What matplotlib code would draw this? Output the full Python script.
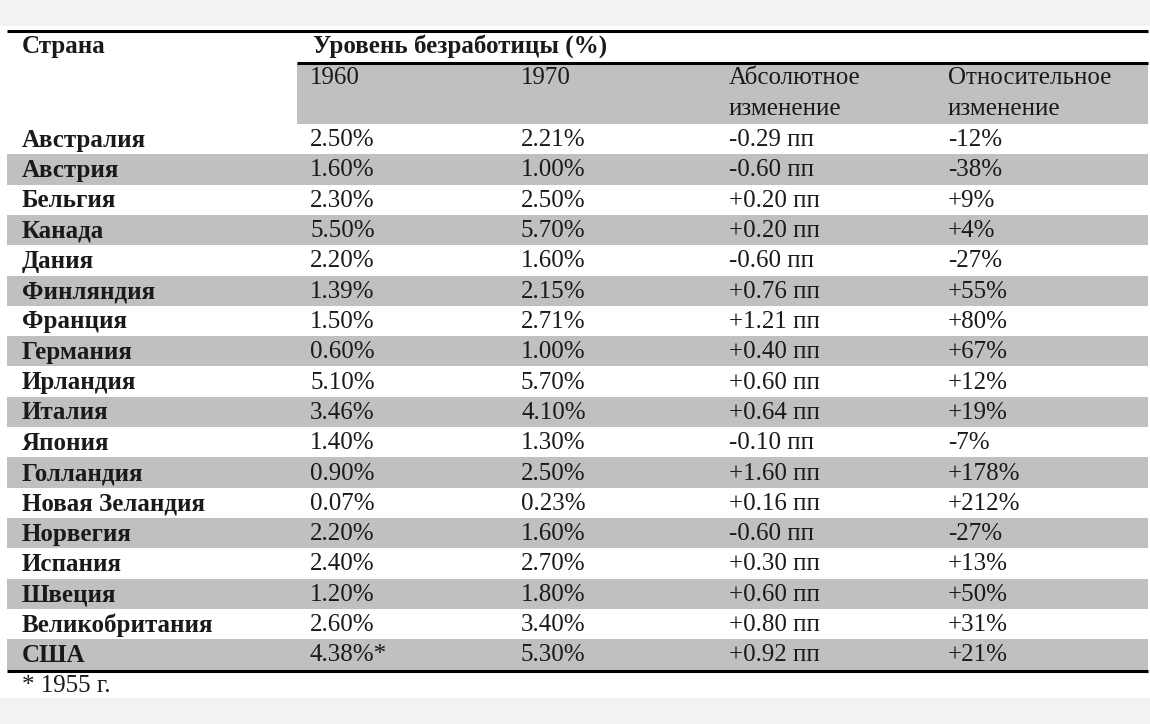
import matplotlib
matplotlib.use("Agg")
import matplotlib.pyplot as plt
from matplotlib.patches import Rectangle

countries = ["Австралия", "Австрия", "Бельгия", "Канада", "Дания", "Финляндия",
             "Франция", "Германия", "Ирландия", "Италия", "Япония", "Голландия",
             "Новая Зеландия", "Норвегия", "Испания", "Швеция", "Великобритания", "США"]
rate_1960 = [2.50, 1.60, 2.30, 5.50, 2.20, 1.39, 1.50, 0.60, 5.10, 3.46, 1.40, 0.90,
             0.07, 2.20, 2.40, 1.20, 2.60, 4.38]
rate_1970 = [2.21, 1.00, 2.50, 5.70, 1.60, 2.15, 2.71, 1.00, 5.70, 4.10, 1.30, 2.50,
             0.23, 1.60, 2.70, 1.80, 3.40, 5.30]
abs_change = [-0.29, -0.60, 0.20, 0.20, -0.60, 0.76, 1.21, 0.40, 0.60, 0.64, -0.10, 1.60,
              0.16, -0.60, 0.30, 0.60, 0.80, 0.92]
rel_change = [-12, -38, 9, 4, -27, 55, 80, 67, 12, 19, -7, 178, 212, -27, 13, 50, 31, 21]
note_1960 = ["", "", "", "", "", "", "", "", "", "", "", "", "", "", "", "", "", "*"]

col_header_1 = ["1960", "1970", "Абсолютное", "Относительное"]
col_header_2 = ["", "", "изменение", "изменение"]
title_country = "Страна"
title_group = "Уровень безработицы (%)"
footnote = "* 1955 г."

W, H = 1150, 724
fig = plt.figure(figsize=(W / 100, H / 100), dpi=100)
fig.patch.set_facecolor("#f2f2f2")
ax = fig.add_axes([0, 0, 1, 1])
ax.set_xlim(0, W)
ax.set_ylim(H, 0)
ax.axis("off")

FONT = "Liberation Serif"
FS = 18
TXT = "#1a1a1a"
STRIPE = "#c0c0c0"

left, right = 7, 1148
band_left = 297
col_x = [22, 310, 521, 729, 948]

# white table area
ax.add_patch(Rectangle((0, 26), W, 672, facecolor="white", edgecolor="none", zorder=0))

# header band
ax.add_patch(Rectangle((band_left, 63), right - band_left, 61, facecolor=STRIPE,
                       edgecolor="none", zorder=1))

row_top = 124
row_h = (669.5 - row_top) / len(countries)
for i in range(len(countries)):
    y0 = row_top + i * row_h
    if i % 2 == 1:
        ax.add_patch(Rectangle((left, y0), right - left, row_h, facecolor=STRIPE,
                               edgecolor="none", zorder=1))
    yc = y0 + row_h / 2 + 1
    ax.text(col_x[0], yc, countries[i], fontsize=FS, fontweight="bold", family=FONT,
            color=TXT, va="center", ha="left", zorder=3)
    ax.text(col_x[1], yc, f"{rate_1960[i]:.2f}%{note_1960[i]}", fontsize=FS, family=FONT,
            color=TXT, va="center", ha="left", zorder=3)
    ax.text(col_x[2], yc, f"{rate_1970[i]:.2f}%", fontsize=FS, family=FONT,
            color=TXT, va="center", ha="left", zorder=3)
    ax.text(col_x[3], yc, f"{abs_change[i]:+.2f} пп", fontsize=FS, family=FONT,
            color=TXT, va="center", ha="left", zorder=3)
    ax.text(col_x[4], yc, f"{rel_change[i]:+d}%", fontsize=FS, family=FONT,
            color=TXT, va="center", ha="left", zorder=3)

# headers
ax.text(col_x[0], 47, title_country, fontsize=FS, fontweight="bold", family=FONT,
        color=TXT, va="center", ha="left", zorder=3)
ax.text(313, 46, title_group, fontsize=FS, fontweight="bold", family=FONT,
        color=TXT, va="center", ha="left", zorder=3)
for j in range(4):
    ax.text(col_x[j + 1], 78, col_header_1[j], fontsize=FS, family=FONT,
            color=TXT, va="center", ha="left", zorder=3)
    if col_header_2[j]:
        ax.text(col_x[j + 1], 109, col_header_2[j], fontsize=FS, family=FONT,
                color=TXT, va="center", ha="left", zorder=3)

# rules
ax.plot([left, right], [30.5, 30.5], color="black", lw=2.2, solid_capstyle="butt", zorder=4)
ax.plot([band_left, right], [63, 63], color="black", lw=2.2, solid_capstyle="butt", zorder=4)
ax.plot([left, right], [670.5, 670.5], color="black", lw=2.2, solid_capstyle="butt", zorder=4)

ax.text(col_x[0], 686, footnote, fontsize=FS, family=FONT, color=TXT,
        va="center", ha="left", zorder=3)

fig.savefig("out.png", dpi=100, facecolor=fig.get_facecolor())
